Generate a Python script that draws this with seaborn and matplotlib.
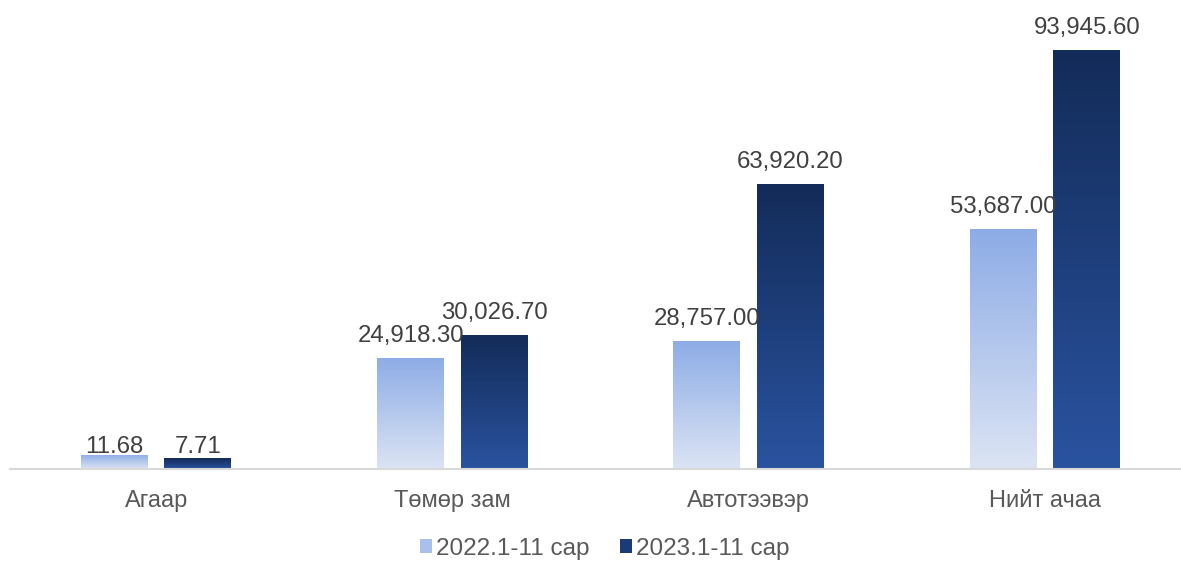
import numpy as np
import pandas as pd
import matplotlib
matplotlib.use("Agg")
import matplotlib.pyplot as plt
import seaborn as sns
from matplotlib.colors import LinearSegmentedColormap
from matplotlib.patches import Patch

# Data
categories = ["Агаар", "Төмөр зам", "Автотээвэр", "Нийт ачаа"]
series_names = ["2022.1-11 сар", "2023.1-11 сар"]
# values shown in the labels
values_2022 = [11.68, 24918.30, 28757.00, 53687.00]
values_2023 = [7.71, 30026.70, 63920.20, 93945.60]
# bar heights as drawn (the Агаар bars are drawn taller than their values)
heights_2022 = [3140, 24918.30, 28757.00, 53687.00]
heights_2023 = [2460, 30026.70, 63920.20, 93945.60]

# gradient colours (top, bottom)
grad_2022 = ("#8DACE6", "#DCE4F4")
grad_2023 = ("#132B58", "#2A53A0")

sns.set_theme(style="white")
plt.rcParams['font.family'] = ['Liberation Sans', 'DejaVu Sans']

df = pd.DataFrame({
    "category": categories * 2,
    "series": [series_names[0]] * 4 + [series_names[1]] * 4,
    "value": heights_2022 + heights_2023,
})

fig = plt.figure(figsize=(11.81, 5.61), dpi=100)
ax = fig.add_axes([10 / 1181, 1 - 469 / 561, 1171 / 1181, 469 / 561])

sns.barplot(data=df, x="category", y="value", hue="series", order=categories,
            hue_order=series_names, width=0.564, gap=0.199,
            palette=[grad_2022[0], grad_2023[0]], legend=False, ax=ax)

# replace flat fills with vertical gradients, then label with the real values
grads = [grad_2022, grad_2023]
label_values = [values_2022, values_2023]
for i, container in enumerate(ax.containers):
    cmap = LinearSegmentedColormap.from_list(f"g{i}", [grads[i][1], grads[i][0]])
    for bar, val in zip(container, label_values[i]):
        x0, y0 = bar.get_x(), bar.get_y()
        w, h = bar.get_width(), bar.get_height()
        grad = np.linspace(0, 1, 256).reshape(-1, 1)
        im = ax.imshow(grad, cmap=cmap, aspect="auto", origin="lower",
                       extent=[x0, x0 + w, y0, y0 + h], zorder=2)
        im.set_clip_path(bar)
        bar.set_facecolor("none")
        bar.set_edgecolor("none")
        ax.annotate(f"{val:,.2f}", (x0 + w / 2, val), xytext=(0, 8),
                    textcoords="offset points", ha="center", va="bottom",
                    fontsize=17.3, color="#404040", zorder=3)

ax.set_aspect("auto")
ax.set_xlim(-0.493, 3.459)
ax.set_ylim(0, 105100)

for s in ["top", "left", "right"]:
    ax.spines[s].set_visible(False)
ax.spines["bottom"].set_color("#D9D9D9")
ax.spines["bottom"].set_linewidth(1.5)
ax.set_yticks([])
ax.set_xlabel("")
ax.set_ylabel("")
ax.tick_params(axis="x", length=0, pad=15, labelsize=17, labelcolor="#595959")

handles = [Patch(facecolor="#A9C0EA", edgecolor="none"),
           Patch(facecolor="#1B3A78", edgecolor="none")]
fig.legend(handles, series_names, loc="center", bbox_to_anchor=(0.512, 0.022),
           ncol=2, frameon=False, fontsize=17.5, handlelength=0.5, handleheight=0.5,
           handletextpad=0.16, columnspacing=1.23, labelcolor="#595959",
           borderaxespad=0, borderpad=0)

fig.savefig("out.png", dpi=100)
